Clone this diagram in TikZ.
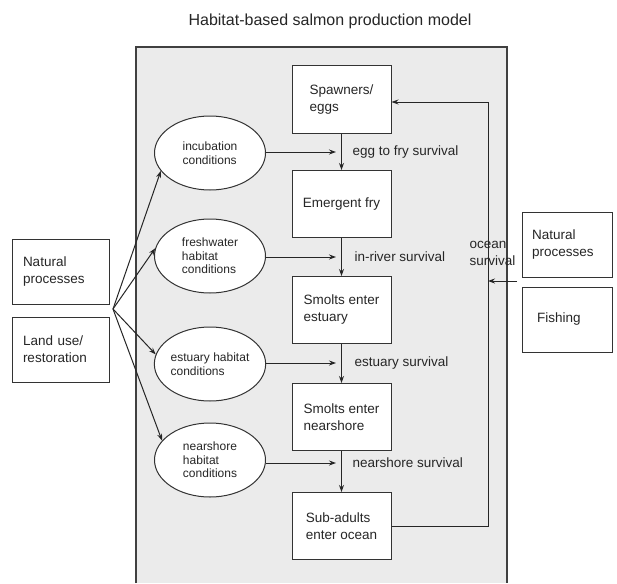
\documentclass[tikz,border=0pt]{standalone}
\usepackage{fontspec}
\setmainfont{Liberation Sans}
\usetikzlibrary{arrows.meta,shapes.geometric,calc}
\begin{document}
\begin{tikzpicture}[x=1pt,y=-1pt,
  line width=1pt,
  txt/.style={text=black!85},
  stage/.style={draw=black!80,fill=white,minimum width=99pt,minimum height=67pt,inner sep=0pt,align=left,font=\fontsize{13.5}{17}\selectfont,txt},
  driver/.style={draw=black!80,fill=white,minimum width=97pt,minimum height=65pt,inner xsep=11pt,inner ysep=0pt,text width=75pt,align=left,font=\fontsize{13.5}{17}\selectfont,txt},
  rdriver/.style={draw=black!80,fill=white,minimum width=90pt,minimum height=65pt,inner xsep=10pt,inner ysep=0pt,text width=70pt,align=left,font=\fontsize{13.5}{17}\selectfont,txt},
  habitat/.style={draw=black!80,fill=white,ellipse,minimum width=111pt,minimum height=74pt,inner sep=0pt,align=left,font=\fontsize{12}{13.5}\selectfont,txt},
  lbl/.style={anchor=west,inner sep=0pt,align=left,font=\fontsize{13.5}{17}\selectfont,txt},
  arr/.style={draw=black!85,-{Stealth[length=7pt,width=5pt]}}
]
\useasboundingbox (0,0) rectangle (617,583);
\fill[white] (0,0) rectangle (617,583);
% panel
\fill[black!8] (136,47) rectangle (507,583);
\draw[black!75,line width=1.3pt] (136,583) -- (136,47) -- (507,47) -- (507,583);
% title
\node[txt,font=\fontsize{16}{19}\selectfont] (title) at (330,21) {Habitat-based salmon production model};
% stages
\node[stage] (spawn) at (341.5,99.5) {Spawners/\\eggs};
\node[stage] (fry) at (341.5,204) {Emergent fry};
\node[stage] (estu) at (341.5,310) {Smolts enter\\estuary};
\node[stage] (near) at (341.5,417) {Smolts enter\\nearshore};
\node[stage] (sub) at (341.5,526) {Sub-adults\\enter ocean};
% habitats
\node[habitat] (inc) at (210,153) {incubation\\conditions};
\node[habitat] (fw) at (210,256) {freshwater\\habitat\\conditions};
\node[habitat] (est) at (210,364) {estuary habitat\\conditions};
\node[habitat] (ns) at (210,460) {nearshore\\habitat\\conditions};
% left drivers
\node[driver] (np) at (60.5,271.5) {Natural\\processes};
\node[driver] (lu) at (60.5,349.5) {Land use/\\restoration};
% right drivers
\node[rdriver] (rnp) at (567,244.5) {Natural\\processes};
\node[rdriver] (fish) at (567,319.5) {\hspace*{5pt}Fishing};
% stage arrows
\draw[arr] (spawn) -- (fry);
\draw[arr] (fry) -- (estu);
\draw[arr] (estu) -- (near);
\draw[arr] (near) -- (sub);
% habitat to survival arrows
\coordinate (t1) at (336,152);
\coordinate (t2) at (336,257);
\coordinate (t3) at (336,363);
\coordinate (t4) at (336,463);
\draw[arr] (inc.east |- t1) -- (t1);
\draw[arr] (fw.east |- t2) -- (t2);
\draw[arr] (est.east |- t3) -- (t3);
\draw[arr] (ns.east |- t4) -- (t4);
\node[lbl] (l1) at (352,152) {egg to fry survival};
\node[lbl] (l2) at (354,257) {in-river survival};
\node[lbl] (l3) at (354,363) {estuary survival};
\node[lbl] (l4) at (352,463) {nearshore survival};
% fan
\coordinate (fan) at (113,309);
\draw[arr] (fan) -- (inc.200);
\draw[arr] (fan) -- (fw.172);
\draw[arr] (fan) -- (est.170);
\draw[arr] (fan) -- (ns.158);
% feedback loop
\coordinate (loopx) at (488,0);
\draw[arr] (sub.east) -- (sub.east -| loopx) -- ($(spawn.east -| loopx)+(0,2.5)$) -- ($(spawn.east)+(0,2.5)$);
% ocean survival
\coordinate (os) at (517,281);
\draw[arr] (os) -- (os -| loopx);
\node[lbl] (l5) at (469,253.5) {ocean\\survival};
\end{tikzpicture}
\end{document}
